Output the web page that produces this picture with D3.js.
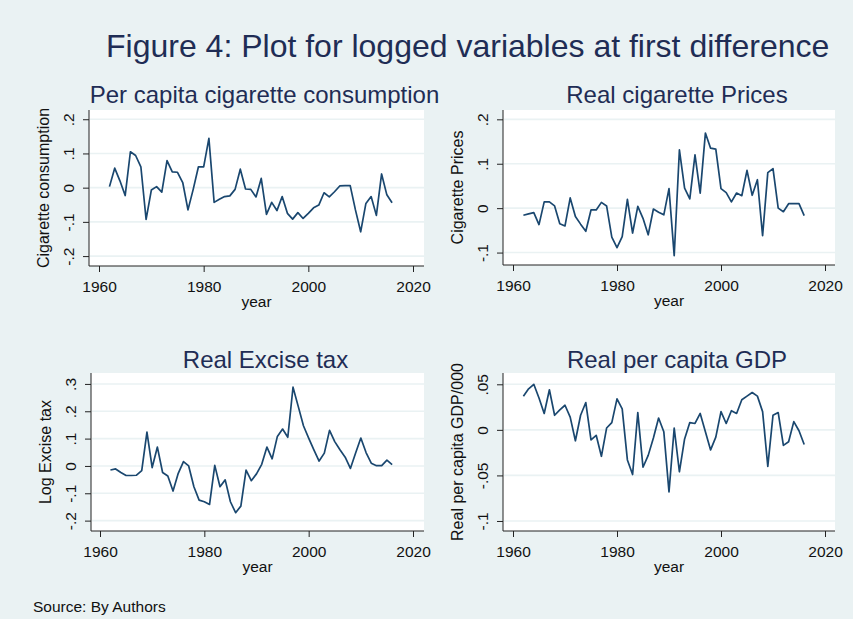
<!DOCTYPE html>
<html>
<head>
<meta charset="utf-8">
<script src="https://cdn.jsdelivr.net/npm/d3@7"></script>
<style>
  body { margin: 0; background: #eaf2f3; }
  svg { display: block; font-family: "Liberation Sans", Arial, sans-serif; }
</style>
</head>
<body>
<svg id="chart" width="853" height="619"></svg>
<script>
// data (first differences of logs), 1962-2016
const years = [1962,1963,1964,1965,1966,1967,1968,1969,1970,1971,1972,1973,1974,1975,1976,1977,1978,1979,1980,1981,
  1982,1983,1984,1985,1986,1987,1988,1989,1990,1991,1992,1993,1994,1995,1996,1997,1998,1999,2000,2001,
  2002,2003,2004,2005,2006,2007,2008,2009,2010,2011,2012,2013,2014,2015,2016];

const consumption = [0.003,0.057,0.020,-0.023,0.105,0.094,0.061,-0.093,-0.007,0.003,-0.013,0.079,0.046,0.045,0.015,-0.065,-0.005,0.061,0.061,0.144,
  -0.043,-0.034,-0.026,-0.024,-0.005,0.054,-0.004,-0.005,-0.027,0.027,-0.078,-0.043,-0.067,-0.026,-0.075,-0.092,-0.073,-0.090,-0.075,-0.059,
  -0.051,-0.015,-0.027,-0.012,0.005,0.006,0.006,-0.065,-0.129,-0.046,-0.026,-0.081,0.040,-0.021,-0.044];

const prices = [-0.016,-0.013,-0.010,-0.037,0.014,0.014,0.005,-0.035,-0.040,0.023,-0.019,-0.036,-0.052,-0.004,-0.004,0.013,0.005,-0.065,-0.089,-0.064,
  0.020,-0.056,0.004,-0.023,-0.060,-0.002,-0.009,-0.015,0.044,-0.107,0.131,0.045,0.021,0.120,0.034,0.169,0.135,0.133,0.044,0.035,
  0.014,0.034,0.028,0.085,0.029,0.064,-0.062,0.080,0.089,0.000,-0.008,0.010,0.010,0.010,-0.017];

const excise = [-0.015,-0.011,-0.024,-0.035,-0.035,-0.034,-0.017,0.124,-0.006,0.069,-0.024,-0.037,-0.092,-0.027,0.016,0.000,-0.076,-0.125,-0.131,-0.141,
  0.002,-0.076,-0.051,-0.131,-0.171,-0.147,-0.015,-0.054,-0.029,0.006,0.069,0.026,0.108,0.135,0.105,0.288,0.218,0.147,0.102,0.059,
  0.018,0.047,0.130,0.089,0.059,0.032,-0.009,0.047,0.102,0.049,0.010,0.001,0.001,0.021,0.005];

const gdp = [0.037,0.045,0.050,0.035,0.018,0.044,0.016,0.022,0.027,0.014,-0.012,0.016,0.030,-0.011,-0.006,-0.029,0.002,0.008,0.034,0.023,
  -0.033,-0.049,0.019,-0.041,-0.028,-0.009,0.013,-0.002,-0.068,0.002,-0.046,-0.010,0.008,0.007,0.018,-0.002,-0.022,-0.008,0.020,0.007,
  0.021,0.018,0.033,0.037,0.041,0.037,0.020,-0.040,0.016,0.019,-0.017,-0.013,0.009,-0.001,-0.016];

const xTicks = [1960,1980,2000,2020];
const yTicks1 = [-0.2,-0.1,0,0.1,0.2];
const yTicks2 = [-0.1,0,0.1,0.2];
const yTicks3 = [-0.2,-0.1,0,0.1,0.2,0.3];
const yTicks4 = [-0.1,-0.05,0,0.05];

const panels = [
  {title:"Per capita cigarette consumption", ytitle:"Cigarette consumption", values:consumption, yticks:yTicks1,
   l:89, r:424, t:110, b:266, x0:99, x1:413, ydom:[-0.229,0.227], titleY:103},
  {title:"Real cigarette Prices", ytitle:"Cigarette Prices", values:prices, yticks:yTicks2,
   l:503, r:835, t:110, b:265, x0:513, x1:825, ydom:[-0.128,0.221], titleY:103},
  {title:"Real Excise tax", ytitle:"Log Excise tax", values:excise, yticks:yTicks3,
   l:91, r:424, t:373, b:531, x0:100, x1:413, ydom:[-0.238,0.340], titleY:368},
  {title:"Real per capita GDP", ytitle:"Real per capita GDP/000", values:gdp, yticks:yTicks4,
   l:503, r:835, t:373, b:531, x0:513, x1:825, ydom:[-0.111,0.0624], titleY:368}
];

const svg = d3.select("#chart");
const navy = "#1a476f";
const titleColor = "#1f2d55";

// stata style number labels: .1, -.05, 0
const fmt = (v) => {
    if (v === 0) return "0";
    let s = String(+v.toFixed(3));
    return s.replace("0.", ".");
};

svg.append("rect").attr("width",853).attr("height",619).attr("fill","#eaf2f3");

svg.append("text")
    .attr("x",106).attr("y",57)
    .attr("font-size",32).attr("fill",titleColor)
    .text("Figure 4: Plot for logged variables at first difference");

panels.forEach((p) => {
    let g = svg.append("g");
    let x = d3.scaleLinear().domain([1960,2020]).range([p.x0,p.x1]);
    let y = d3.scaleLinear().domain(p.ydom).range([p.b,p.t]);

    g.append("rect")
        .attr("x",p.l).attr("y",p.t)
        .attr("width",p.r - p.l).attr("height",p.b - p.t)
        .attr("fill","#fff");

    g.selectAll(".grid")
        .data(p.yticks)
        .enter().append("line")
            .attr("x1",p.l + 1).attr("x2",p.r)
            .attr("y1",(d) => y(d)).attr("y2",(d) => y(d))
            .attr("stroke","#eaf2f3").attr("stroke-width",1.6);

    let yAxis = d3.axisLeft(y).tickValues(p.yticks).tickFormat(fmt).tickSizeInner(6).tickSizeOuter(0);
    let ya = g.append("g").attr("transform","translate(" + p.l + ",0)").call(yAxis);
    ya.select(".domain").remove();
    ya.selectAll("line").attr("stroke","#222");
    ya.selectAll("text")
        .attr("x",0).attr("y",0).attr("dy",0)
        .attr("transform","translate(-15,0) rotate(-90)")
        .attr("text-anchor","middle")
        .attr("font-size",15.5).attr("fill","#111");

    let xAxis = d3.axisBottom(x).tickValues(xTicks).tickFormat(d3.format("d")).tickSizeInner(6).tickSizeOuter(0);
    let xa = g.append("g").attr("transform","translate(0," + p.b + ")").call(xAxis);
    xa.select(".domain").remove();
    xa.selectAll("line").attr("stroke","#222");
    xa.selectAll("text")
        .attr("y",0).attr("dy",0)
        .attr("transform","translate(0,26)")
        .attr("font-size",15.5).attr("fill","#111");

    g.append("line").attr("x1",p.l).attr("x2",p.l).attr("y1",p.t).attr("y2",p.b)
        .attr("stroke","#222").attr("stroke-width",1);
    g.append("line").attr("x1",p.l).attr("x2",p.r).attr("y1",p.b).attr("y2",p.b)
        .attr("stroke","#222").attr("stroke-width",1);

    let line = d3.line()
        .x((d,i) => x(years[i]))
        .y((d) => y(d));
    g.append("path")
        .datum(p.values)
        .attr("d",line)
        .attr("fill","none")
        .attr("stroke",navy)
        .attr("stroke-width",1.7)
        .attr("stroke-linejoin","round");

    g.append("text")
        .attr("x",(p.l + p.r)/2 + 8).attr("y",p.titleY)
        .attr("text-anchor","middle")
        .attr("font-size",24).attr("fill",titleColor)
        .text(p.title);

    g.append("text")
        .attr("x",(p.l + p.r)/2).attr("y",p.b + 41)
        .attr("text-anchor","middle")
        .attr("font-size",15.5).attr("fill","#111")
        .text("year");

    let cy = (p.t + p.b)/2;
    g.append("text")
        .attr("transform","translate(" + (p.l - 40) + "," + cy + ") rotate(-90)")
        .attr("text-anchor","middle")
        .attr("font-size",16).attr("fill","#111")
        .text(p.ytitle);
});

svg.append("text")
    .attr("x",33).attr("y",612)
    .attr("font-size",15.5).attr("fill","#111")
    .text("Source: By Authors");
</script>
</body>
</html>
